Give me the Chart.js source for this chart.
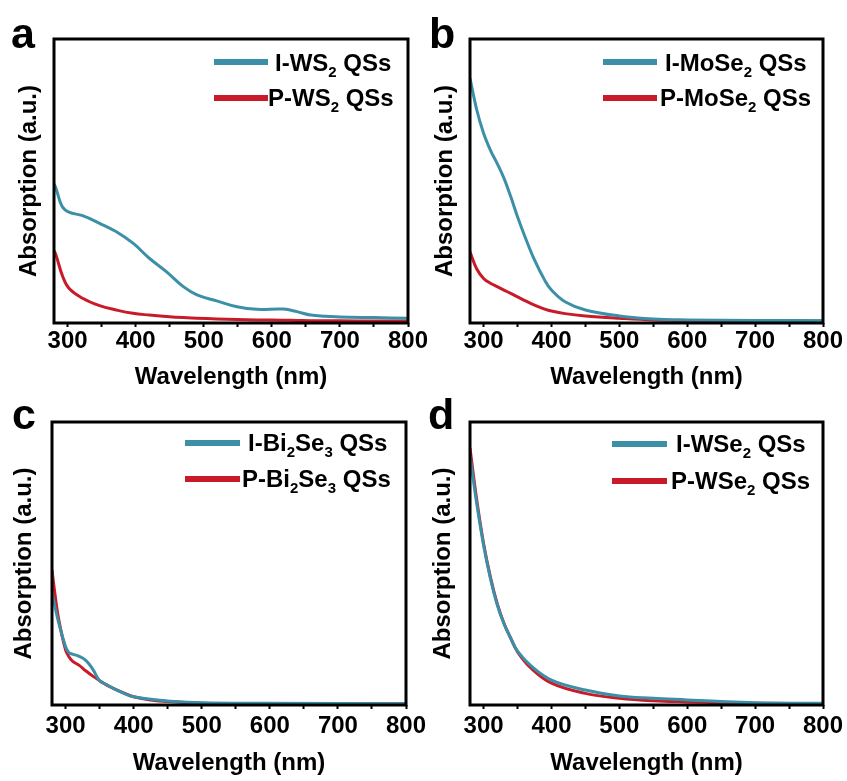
<!DOCTYPE html>
<html>
<head>
<meta charset="utf-8">
<script src="https://cdn.jsdelivr.net/npm/chart.js@4.4.0/dist/chart.umd.min.js"></script>
<style>
body{margin:0;background:#fff;width:847px;height:781px;position:relative;overflow:hidden;font-family:"Liberation Sans",Arial,sans-serif;font-weight:bold;color:#000}
canvas{position:absolute}
.lbl{position:absolute;font-size:43px;line-height:43px}
.lg{position:absolute;font-size:24px;line-height:24px;white-space:nowrap}
.lg sub{font-size:15px;line-height:0;vertical-align:-6px}
.sw{position:absolute;height:6px}
</style>
</head>
<body>
<canvas id="pa" width="432" height="395" style="left:0;top:0"></canvas>
<canvas id="pb" width="422" height="395" style="left:425px;top:0"></canvas>
<canvas id="pc" width="432" height="391" style="left:0;top:390px"></canvas>
<canvas id="pd" width="422" height="391" style="left:425px;top:390px"></canvas>

<div class="lbl" style="left:11px;top:12px">a</div>
<div class="lbl" style="left:429px;top:12px">b</div>
<div class="lbl" style="left:12px;top:393px">c</div>
<div class="lbl" style="left:428px;top:393px">d</div>

<div class="sw" style="left:214px;top:59px;width:54px;background:#3b90a8"></div>
<div class="lg" style="left:275px;top:51px">I-WS<sub>2</sub> QSs</div>
<div class="sw" style="left:214px;top:95px;width:54px;background:#c81a28"></div>
<div class="lg" style="left:268px;top:86px">P-WS<sub>2</sub> QSs</div>

<div class="sw" style="left:603px;top:59px;width:54px;background:#3b90a8"></div>
<div class="lg" style="left:665px;top:51px">I-MoSe<sub>2</sub> QSs</div>
<div class="sw" style="left:603px;top:95px;width:54px;background:#c81a28"></div>
<div class="lg" style="left:660px;top:86px">P-MoSe<sub>2</sub> QSs</div>

<div class="sw" style="left:185px;top:440px;width:55px;background:#3b90a8"></div>
<div class="lg" style="left:248px;top:431px">I-Bi<sub>2</sub>Se<sub>3</sub> QSs</div>
<div class="sw" style="left:185px;top:476px;width:55px;background:#c81a28"></div>
<div class="lg" style="left:242px;top:467px">P-Bi<sub>2</sub>Se<sub>3</sub> QSs</div>

<div class="sw" style="left:612px;top:441px;width:55px;background:#3b90a8"></div>
<div class="lg" style="left:676px;top:432px">I-WSe<sub>2</sub> QSs</div>
<div class="sw" style="left:612px;top:478px;width:55px;background:#c81a28"></div>
<div class="lg" style="left:671px;top:469px">P-WSe<sub>2</sub> QSs</div>

<script>
// wavelengths (nm) and absorption (normalised to the frame height)
var wlA = [280, 283, 292, 302, 322, 347, 371, 396, 420, 445, 470, 490, 519, 549, 578, 617, 637, 657, 680, 700, 750, 800];
var iWS2 = [0.49, 0.474, 0.41, 0.39, 0.378, 0.351, 0.322, 0.281, 0.228, 0.181, 0.128, 0.099, 0.078, 0.057, 0.048, 0.049, 0.04, 0.028, 0.024, 0.021, 0.019, 0.017];
var pWS2 = [0.255, 0.239, 0.169, 0.122, 0.087, 0.061, 0.046, 0.034, 0.028, 0.023, 0.019, 0.017, 0.014, 0.012, 0.011, 0.01, 0.009, 0.008, 0.008, 0.008, 0.007, 0.007];

var wlB = [280, 290, 300, 310, 320, 330, 340, 350, 360, 375, 390, 400, 420, 450, 500, 550, 600, 700, 800];
var iMoSe2 = [0.862, 0.75, 0.668, 0.609, 0.562, 0.51, 0.445, 0.374, 0.31, 0.222, 0.151, 0.116, 0.075, 0.046, 0.025, 0.014, 0.011, 0.009, 0.008];
var pMoSe2 = [0.251, 0.19, 0.157, 0.14, 0.128, 0.116, 0.104, 0.092, 0.08, 0.063, 0.049, 0.042, 0.033, 0.025, 0.017, 0.011, 0.009, 0.008, 0.007];

var wlC = [280, 285, 290, 300, 305, 310, 320, 330, 340, 350, 360, 370, 385, 400, 425, 450, 500, 600, 800];
var iBi2Se3 = [0.40, 0.34, 0.289, 0.206, 0.185, 0.18, 0.172, 0.157, 0.126, 0.086, 0.072, 0.059, 0.042, 0.029, 0.02, 0.014, 0.008, 0.006, 0.004];
var pBi2Se3 = [0.477, 0.38, 0.30, 0.194, 0.17, 0.155, 0.14, 0.12, 0.102, 0.086, 0.071, 0.059, 0.043, 0.029, 0.018, 0.012, 0.006, 0.005, 0.004];

var wlD = [280, 290, 300, 310, 320, 330, 340, 350, 370, 400, 450, 500, 550, 600, 650, 700, 800];
var iWSe2 = [0.88, 0.71, 0.565, 0.448, 0.355, 0.287, 0.236, 0.19, 0.138, 0.088, 0.053, 0.032, 0.024, 0.018, 0.012, 0.008, 0.006];
var pWSe2 = [0.907, 0.724, 0.571, 0.453, 0.359, 0.289, 0.236, 0.188, 0.13, 0.077, 0.041, 0.024, 0.015, 0.011, 0.008, 0.006, 0.005];

var xTicks = [300, 400, 500, 600, 700, 800];

var TEAL = '#3b90a8', RED = '#c81a28';
var FONT = "'Liberation Sans', Arial, sans-serif";

// black box round the plot area
var frame = {
  id: 'frame',
  afterDatasetsDraw: function (chart) {
    var a = chart.chartArea, c = chart.ctx;
    c.save();
    c.strokeStyle = '#000';
    c.lineWidth = 3;
    c.strokeRect(a.left, a.top, a.right - a.left, a.bottom - a.top);
    c.restore();
  }
};

function series(wl, ys, color) {
  return {
    data: wl.map(function (w, i) { return {x: w, y: ys[i]}; }),
    borderColor: color,
    borderWidth: 3,
    pointRadius: 0,
    fill: false,
    tension: 0.4
  };
}

function panel(id, wl, iy, py, b) {
  new Chart(document.getElementById(id), {
    type: 'line',
    data: {datasets: [series(wl, iy, TEAL), series(wl, py, RED)]},
    options: {
      responsive: false,
      animation: false,
      layout: {padding: {top: b.top, right: b.right, left: 0, bottom: 0}},
      plugins: {legend: {display: false}, tooltip: {enabled: false}},
      scales: {
        x: {
          type: 'linear', min: 280, max: 800,
          ticks: {
            stepSize: 50, includeBounds: false, autoSkip: false, maxRotation: 0,
            padding: b.tickPad, color: '#000',
            font: {family: FONT, size: 24, weight: 'bold'},
            callback: function (v) { return xTicks.indexOf(v) >= 0 ? v : ''; }
          },
          grid: {drawOnChartArea: false, drawTicks: true, tickLength: 4, tickWidth: 2, tickColor: '#000'},
          border: {display: false},
          title: {display: true, text: 'Wavelength (nm)', color: '#000',
                  font: {family: FONT, size: 24, weight: 'bold'}, padding: {top: 0, bottom: b.xPad}},
          afterFit: function (s) { s.height = b.xH; s.paddingLeft = 0; s.paddingRight = 0; }
        },
        y: {
          min: 0, max: 1,
          ticks: {display: false},
          grid: {display: false},
          border: {display: false},
          title: {display: true, text: 'Absorption (a.u.)', color: '#000',
                  font: {family: FONT, size: 24, weight: 'bold'}, padding: {top: b.yPad, bottom: 0}},
          afterFit: function (s) { s.width = b.yW; }
        }
      }
    },
    plugins: [frame]
  });
}

panel('pa', wlA, iWS2, pWS2, {top: 39, right: 24, yW: 54, yPad: 15, xH: 72, xPad: 3, tickPad: 0});
panel('pb', wlB, iMoSe2, pMoSe2, {top: 39, right: 24, yW: 45, yPad: 6, xH: 72, xPad: 3, tickPad: 0});
panel('pc', wlC, iBi2Se3, pBi2Se3, {top: 32, right: 26, yW: 52, yPad: 10, xH: 76, xPad: 3, tickPad: 3});
panel('pd', wlD, iWSe2, pWSe2, {top: 32, right: 24, yW: 45, yPad: 4, xH: 76, xPad: 3, tickPad: 3});
</script>
</body>
</html>
